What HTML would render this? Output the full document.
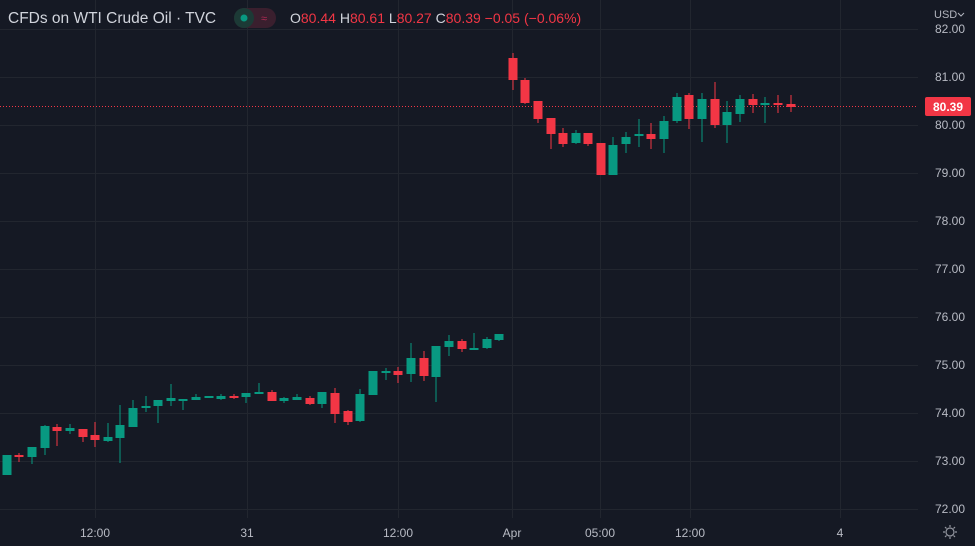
<!DOCTYPE html>
<html><head><meta charset="utf-8"><style>
html,body{margin:0;padding:0;background:#151924;}
body{width:975px;height:546px;overflow:hidden;font-family:"Liberation Sans",sans-serif;}
</style></head><body>
<svg width="975" height="546" xmlns="http://www.w3.org/2000/svg" style="display:block">
<rect width="975" height="546" fill="#151924"/>
<g stroke="#22262f" stroke-width="1">
<line x1="0" x2="918" y1="29.5" y2="29.5"/><line x1="0" x2="918" y1="77.5" y2="77.5"/><line x1="0" x2="918" y1="125.5" y2="125.5"/><line x1="0" x2="918" y1="173.5" y2="173.5"/><line x1="0" x2="918" y1="221.5" y2="221.5"/><line x1="0" x2="918" y1="269.5" y2="269.5"/><line x1="0" x2="918" y1="317.5" y2="317.5"/><line x1="0" x2="918" y1="365.5" y2="365.5"/><line x1="0" x2="918" y1="413.5" y2="413.5"/><line x1="0" x2="918" y1="461.5" y2="461.5"/><line x1="0" x2="918" y1="509.5" y2="509.5"/>
<line x1="95.5" x2="95.5" y1="0" y2="518"/><line x1="247.5" x2="247.5" y1="0" y2="518"/><line x1="398.5" x2="398.5" y1="0" y2="518"/><line x1="512.5" x2="512.5" y1="0" y2="518"/><line x1="600.5" x2="600.5" y1="0" y2="518"/><line x1="690.5" x2="690.5" y1="0" y2="518"/><line x1="840.5" x2="840.5" y1="0" y2="518"/>
</g>
<line x1="0" x2="918" y1="106.5" y2="106.5" stroke="#f23645" stroke-width="1" stroke-dasharray="1,2"/>
<g fill="#089981">
<rect x="6.5" y="455" width="1" height="20"/><rect x="2.5" y="455" width="9" height="20"/>
<rect x="31.5" y="447" width="1" height="17"/><rect x="27.5" y="447" width="9" height="10"/>
<rect x="44.5" y="425" width="1" height="30"/><rect x="40.5" y="426" width="9" height="22"/>
<rect x="69.5" y="424" width="1" height="10"/><rect x="65.5" y="428" width="9" height="3"/>
<rect x="107.5" y="423" width="1" height="19"/><rect x="103.5" y="437" width="9" height="4"/>
<rect x="119.5" y="405" width="1" height="58"/><rect x="115.5" y="425" width="9" height="13"/>
<rect x="132.5" y="400" width="1" height="27"/><rect x="128.5" y="408" width="9" height="19"/>
<rect x="145.5" y="396" width="1" height="16"/><rect x="141.5" y="406" width="9" height="2"/>
<rect x="157.5" y="400" width="1" height="23"/><rect x="153.5" y="400" width="9" height="6"/>
<rect x="170.5" y="384" width="1" height="22"/><rect x="166.5" y="398" width="9" height="3"/>
<rect x="182.5" y="399" width="1" height="11"/><rect x="178.5" y="399" width="9" height="2"/>
<rect x="195.5" y="394" width="1" height="6"/><rect x="191.5" y="397" width="9" height="3"/>
<rect x="204.5" y="396" width="9" height="2"/>
<rect x="220.5" y="394" width="1" height="6"/><rect x="216.5" y="396" width="9" height="3"/>
<rect x="245.5" y="393" width="1" height="10"/><rect x="241.5" y="393" width="9" height="4"/>
<rect x="258.5" y="383" width="1" height="11"/><rect x="254.5" y="392" width="9" height="2"/>
<rect x="283.5" y="397" width="1" height="6"/><rect x="279.5" y="398" width="9" height="3"/>
<rect x="296.5" y="394" width="1" height="6"/><rect x="292.5" y="397" width="9" height="3"/>
<rect x="321.5" y="392" width="1" height="16"/><rect x="317.5" y="392" width="9" height="12"/>
<rect x="359.5" y="389" width="1" height="33"/><rect x="355.5" y="394" width="9" height="27"/>
<rect x="372.5" y="371" width="1" height="24"/><rect x="368.5" y="371" width="9" height="24"/>
<rect x="385.5" y="368" width="1" height="12"/><rect x="381.5" y="371" width="9" height="2"/>
<rect x="410.5" y="343" width="1" height="39"/><rect x="406.5" y="358" width="9" height="16"/>
<rect x="435.5" y="346" width="1" height="56"/><rect x="431.5" y="346" width="9" height="31"/>
<rect x="448.5" y="335" width="1" height="21"/><rect x="444.5" y="341" width="9" height="6"/>
<rect x="473.5" y="333" width="1" height="17"/><rect x="469.5" y="348" width="9" height="2"/>
<rect x="486.5" y="337" width="1" height="12"/><rect x="482.5" y="339" width="9" height="9"/>
<rect x="498.5" y="334" width="1" height="7"/><rect x="494.5" y="334" width="9" height="6"/>
<rect x="575.5" y="130" width="1" height="14"/><rect x="571.5" y="133" width="9" height="10"/>
<rect x="612.5" y="137" width="1" height="38"/><rect x="608.5" y="145" width="9" height="30"/>
<rect x="625.5" y="132" width="1" height="21"/><rect x="621.5" y="137" width="9" height="7"/>
<rect x="638.5" y="119" width="1" height="28"/><rect x="634.5" y="134" width="9" height="2"/>
<rect x="663.5" y="116" width="1" height="37"/><rect x="659.5" y="121" width="9" height="18"/>
<rect x="676.5" y="93" width="1" height="30"/><rect x="672.5" y="97" width="9" height="24"/>
<rect x="701.5" y="93" width="1" height="49"/><rect x="697.5" y="99" width="9" height="20"/>
<rect x="726.5" y="101" width="1" height="42"/><rect x="722.5" y="112" width="9" height="13"/>
<rect x="739.5" y="95" width="1" height="27"/><rect x="735.5" y="99" width="9" height="15"/>
<rect x="764.5" y="97" width="1" height="26"/><rect x="760.5" y="103" width="9" height="2"/>
</g>
<g fill="#f23645">
<rect x="18.5" y="453" width="1" height="9"/><rect x="14.5" y="455" width="9" height="2"/>
<rect x="56.5" y="424" width="1" height="22"/><rect x="52.5" y="427" width="9" height="4"/>
<rect x="82.5" y="429" width="1" height="13"/><rect x="78.5" y="429" width="9" height="8"/>
<rect x="94.5" y="422" width="1" height="25"/><rect x="90.5" y="435" width="9" height="5"/>
<rect x="233.5" y="394" width="1" height="5"/><rect x="229.5" y="396" width="9" height="2"/>
<rect x="271.5" y="390" width="1" height="11"/><rect x="267.5" y="392" width="9" height="9"/>
<rect x="309.5" y="396" width="1" height="9"/><rect x="305.5" y="398" width="9" height="6"/>
<rect x="334.5" y="388" width="1" height="35"/><rect x="330.5" y="393" width="9" height="21"/>
<rect x="347.5" y="410" width="1" height="15"/><rect x="343.5" y="411" width="9" height="11"/>
<rect x="397.5" y="367" width="1" height="16"/><rect x="393.5" y="371" width="9" height="4"/>
<rect x="423.5" y="351" width="1" height="30"/><rect x="419.5" y="358" width="9" height="18"/>
<rect x="461.5" y="339" width="1" height="13"/><rect x="457.5" y="341" width="9" height="8"/>
<rect x="512.5" y="53" width="1" height="37"/><rect x="508.5" y="58" width="9" height="22"/>
<rect x="524.5" y="78" width="1" height="26"/><rect x="520.5" y="80" width="9" height="23"/>
<rect x="537.5" y="101" width="1" height="22"/><rect x="533.5" y="101" width="9" height="18"/>
<rect x="550.5" y="118" width="1" height="31"/><rect x="546.5" y="118" width="9" height="16"/>
<rect x="562.5" y="128" width="1" height="19"/><rect x="558.5" y="133" width="9" height="11"/>
<rect x="587.5" y="133" width="1" height="13"/><rect x="583.5" y="133" width="9" height="11"/>
<rect x="600.5" y="143" width="1" height="32"/><rect x="596.5" y="143" width="9" height="32"/>
<rect x="650.5" y="123" width="1" height="26"/><rect x="646.5" y="134" width="9" height="5"/>
<rect x="688.5" y="93" width="1" height="36"/><rect x="684.5" y="95" width="9" height="24"/>
<rect x="714.5" y="82" width="1" height="46"/><rect x="710.5" y="99" width="9" height="26"/>
<rect x="752.5" y="94" width="1" height="19"/><rect x="748.5" y="99" width="9" height="6"/>
<rect x="777.5" y="95" width="1" height="18"/><rect x="773.5" y="103" width="9" height="2"/>
<rect x="790.5" y="95" width="1" height="17"/><rect x="786.5" y="104" width="9" height="3"/>
</g>
<g fill="#b8bbc4" font-size="12" text-anchor="middle">
<text x="950" y="33">82.00</text><text x="950" y="81">81.00</text><text x="950" y="129">80.00</text><text x="950" y="177">79.00</text><text x="950" y="225">78.00</text><text x="950" y="273">77.00</text><text x="950" y="321">76.00</text><text x="950" y="369">75.00</text><text x="950" y="417">74.00</text><text x="950" y="465">73.00</text><text x="950" y="513">72.00</text>
<text x="95" y="537">12:00</text><text x="247" y="537">31</text><text x="398" y="537">12:00</text><text x="512" y="537">Apr</text><text x="600" y="537">05:00</text><text x="690" y="537">12:00</text><text x="840" y="537">4</text>
</g>
<rect x="925" y="97" width="46" height="19" rx="2" fill="#f23645"/>
<text x="948" y="111" fill="#fff" font-size="12" font-weight="bold" text-anchor="middle">80.39</text>
<text x="934" y="18" fill="#b2b5be" font-size="11">USD</text>
<path d="M958 13l3 3 3-3" stroke="#b2b5be" fill="none"/>
<g stroke="#9598a1" fill="none" stroke-width="1.2"><circle cx="950" cy="532" r="4"/><path d="M950 525v2M950 537v2M943 532h2M955 532h2M945 527l1.5 1.5M953.5 535.5l1.5 1.5M955 527l-1.5 1.5M946.5 535.5l-1.5 1.5"/></g>
<text x="8" y="23" fill="#d1d4dc" font-size="15.5">CFDs on WTI Crude Oil · TVC</text>
<rect x="234" y="8" width="42" height="20" rx="10" fill="#3a1f2e"/>
<rect x="234" y="8" width="20" height="20" rx="10" fill="#1c3a36"/>
<circle cx="244" cy="18" r="3.5" fill="#089981"/>
<text x="264" y="22" fill="#b22a55" font-size="11" text-anchor="middle">≈</text>
<text x="290" y="23" font-size="14" fill="#f23645"><tspan fill="#d1d4dc">O</tspan>80.44 <tspan fill="#d1d4dc">H</tspan>80.61 <tspan fill="#d1d4dc">L</tspan>80.27 <tspan fill="#d1d4dc">C</tspan>80.39 −0.05 (−0.06%)</text>
</svg>
</body></html>
